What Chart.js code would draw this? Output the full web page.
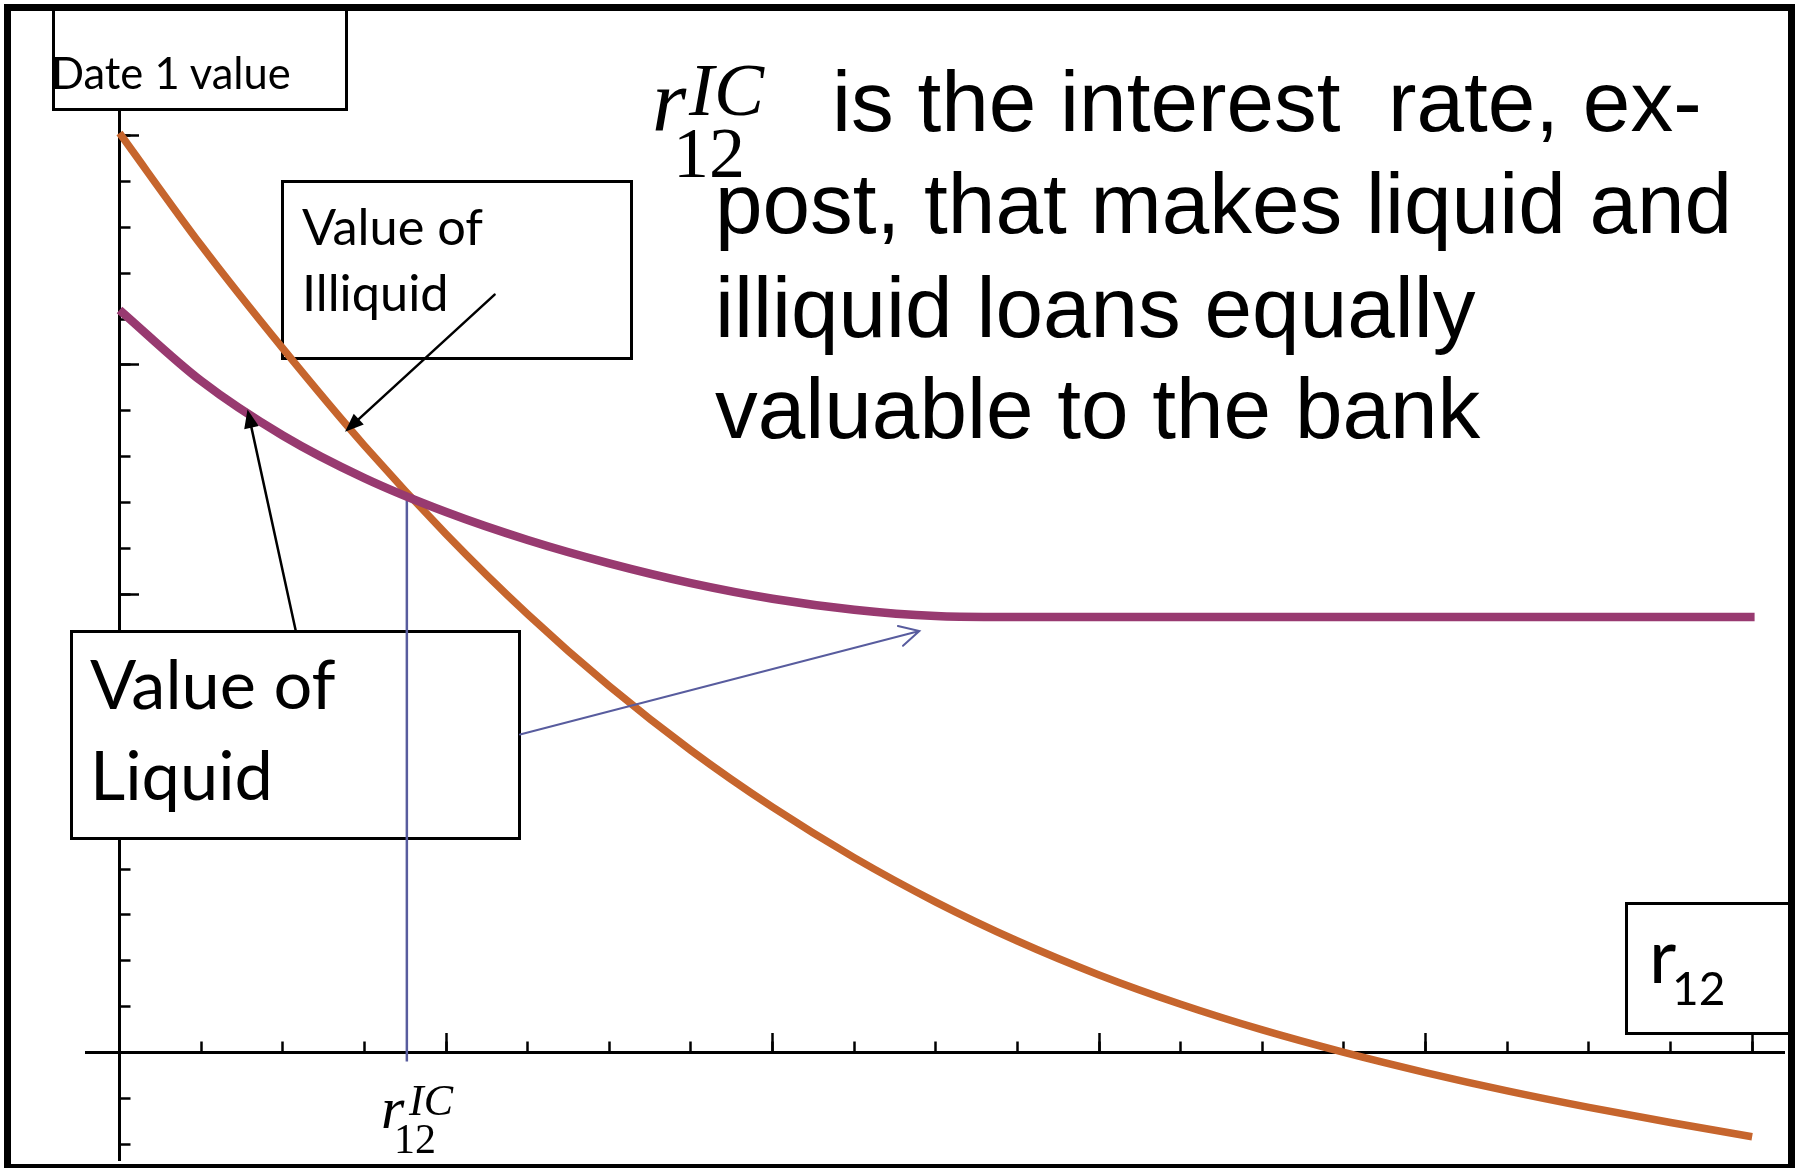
<!DOCTYPE html>
<html>
<head>
<meta charset="utf-8">
<title>Date 1 value against r12</title>
<script src="https://cdn.jsdelivr.net/npm/chart.js@4.4.1/dist/chart.umd.min.js"></script>
<style>
    html, body { margin: 0; padding: 0; background: #fff; }
    #wrap  { position: relative; width: 1803px; height: 1168px; overflow: hidden; background: #fff; }
    #chart { position: absolute; left: 0; top: 0; }
    #ink   { position: absolute; left: 0; top: 0; }
</style>
</head>
<body>
<div id="wrap">
    <canvas id="chart" width="1803" height="1168"></canvas>
    <svg id="ink" width="1803" height="1168" xmlns="http://www.w3.org/2000/svg">
        <rect x="7.5" y="7.5" width="1784" height="1160" fill="none" stroke="#000" stroke-width="7"/>

        <g font-family="Lato, 'Open Sans', sans-serif" fill="#000">
            <text x="51" y="89" font-size="43.5">Date 1 value</text>
            <text x="302" y="244.6" font-size="50.5">Value of</text>
            <text x="302" y="310.7" font-size="50.5">Illiquid</text>
            <text x="90" y="709.3" font-size="68.5">Value of</text>
            <text x="90" y="800.4" font-size="68.5">Liquid</text>
            <text x="1649" y="983" font-size="75">r</text>
            <text x="1672" y="1005" font-size="46">12</text>
        </g>

        <g font-family="'Liberation Serif', 'Times New Roman', serif" fill="#000">
            <text x="652" y="130" font-size="88" font-style="italic">r</text>
            <text x="689" y="115" font-size="75" font-style="italic">IC</text>
            <text x="673" y="177" font-size="72">12</text>
            <text x="381" y="1128" font-size="60" font-style="italic">r</text>
            <text x="409" y="1115" font-size="44" font-style="italic">IC</text>
            <text x="394" y="1153" font-size="42">12</text>
        </g>

        <g font-family="'Liberation Sans', Arial, sans-serif" font-size="85.5" fill="#000" style="white-space:pre">
            <text x="832" y="130.5" xml:space="preserve">is the interest  rate, ex-</text>
            <text x="715" y="233.3">post, that makes liquid and</text>
            <text x="715" y="336.7">illiquid loans equally</text>
            <text x="715" y="438.3">valuable to the bank</text>
        </g>
    </svg>
</div>

<script>
// ── Datos ─────────────────────────────────────────────────────────────────
const illiquidX = [0, 1, 2, 3, 4, 5, 6, 7, 8, 9, 10, 11, 12, 13, 14, 15, 16, 17, 18, 19, 20];
const illiquidY = [20.06, 17.61, 15.36, 13.24, 11.31, 9.56, 7.99, 6.59, 5.35, 4.25, 3.28,
                   2.43, 1.69, 1.05, 0.49, 0, -0.44, -0.84, -1.2, -1.53, -1.84];

const liquidX = [0, 1, 2, 3, 4, 5, 6, 7, 8, 9, 10, 10.7, 12, 14, 16, 18, 20.03];
const liquidY = [16.2, 14.65, 13.46, 12.53, 11.79, 11.18, 10.67, 10.24, 9.9, 9.66, 9.52,
                 9.5, 9.5, 9.5, 9.5, 9.5, 9.5];

const rIC      = 3.52;          // tipo de corte r12^IC
const rICDrop  = [12.05, -0.2]; // tramo vertical azul

const xMinorTicks = [0, 1, 2, 3, 4, 5, 6, 7, 8, 9, 10, 11, 12, 13, 14, 15, 16, 17, 18, 19, 20];
const xMajorTicks = [0, 4, 8, 12, 16, 20];
const yMinorTicks = [-2, -1, 0, 1, 2, 3, 4, 5, 6, 7, 8, 9, 10, 11, 12, 13, 14, 15, 16, 17, 18, 19, 20];
const yMajorTicks = [0, 5, 10, 15, 20];

const xRange = [-0.4, 20.4];
const yRange = [-2.35, 20.6];

// ── Anotaciones (cajas en px, flechas en unidades de datos) ──────────────
const boxes = [
    [52, 4, 348, 111],       // Date 1 value
    [281, 180, 633, 360],    // Value of Illiquid
    [70, 630, 521, 840],     // Value of Liquid
    [1625, 902, 1792, 1035], // r12
];
const arrows = [
    { from: [4.595, 16.535], to: [2.763, 13.544], color: '#000',    width: 2.5, head: 'solid' },
    { from: [2.157, 9.217],  to: [1.568, 14.028], color: '#000',    width: 2.5, head: 'solid' },
    { from: [4.906, 6.936],  to: [9.798, 9.195],  color: '#585c9e', width: 2,   head: 'open'  },
];

const pts = (xs, ys) => xs.map((v, i) => ({ x: v, y: ys[i] }));
const setTicks = list => scale => { scale.ticks = list.map(v => ({ value: v })); };

// ── Ejes con ticks hacia dentro ───────────────────────────────────────────
function axis(kind, ticks, len, withBorder) {
    const isX = kind === 'x';
    return {
        type: 'linear',
        axis: kind,
        min: isX ? xRange[0] : yRange[0],
        max: isX ? xRange[1] : yRange[1],
        position: isX ? { y: 0 } : { x: 0 },
        afterBuildTicks: setTicks(ticks),
        ticks: { display: false },
        grid: { drawOnChartArea: false, drawTicks: true, tickLength: len, tickWidth: 2.5, tickColor: '#000' },
        border: { display: withBorder, color: '#000', width: 3 },
    };
}

// ── Cajas blancas y flechas ───────────────────────────────────────────────
const overlay = {
    id: 'overlay',
    beforeDatasetsDraw(chart) {
        const ctx = chart.ctx;
        ctx.save();
        ctx.fillStyle = '#fff';
        ctx.strokeStyle = '#000';
        ctx.lineWidth = 3;
        boxes.forEach(([l, t, r, b]) => {
            ctx.fillRect(l, t, r - l, b - t);
            ctx.strokeRect(l + 1.5, t + 1.5, r - l - 3, b - t - 3);
        });
        ctx.restore();
    },
    afterDatasetsDraw(chart) {
        const { ctx, scales: { x, y } } = chart;
        arrows.forEach(a => {
            const x0 = x.getPixelForValue(a.from[0]), y0 = y.getPixelForValue(a.from[1]);
            const x1 = x.getPixelForValue(a.to[0]),   y1 = y.getPixelForValue(a.to[1]);
            const ang = Math.atan2(y1 - y0, x1 - x0);
            ctx.save();
            ctx.strokeStyle = a.color;
            ctx.fillStyle = a.color;
            ctx.lineWidth = a.width;
            ctx.lineCap = 'round';
            if (a.head === 'solid') {
                const L = 20, th = 0.38;
                ctx.beginPath();
                ctx.moveTo(x0, y0);
                ctx.lineTo(x1 - Math.cos(ang) * L * 0.8, y1 - Math.sin(ang) * L * 0.8);
                ctx.stroke();
                ctx.beginPath();
                ctx.moveTo(x1, y1);
                ctx.lineTo(x1 - L * Math.cos(ang - th), y1 - L * Math.sin(ang - th));
                ctx.lineTo(x1 - L * Math.cos(ang + th), y1 - L * Math.sin(ang + th));
                ctx.closePath();
                ctx.fill();
            } else {
                const L = 22, th = 0.48;
                ctx.beginPath();
                ctx.moveTo(x0, y0);
                ctx.lineTo(x1, y1);
                ctx.moveTo(x1 - L * Math.cos(ang - th), y1 - L * Math.sin(ang - th));
                ctx.lineTo(x1, y1);
                ctx.lineTo(x1 - L * Math.cos(ang + th), y1 - L * Math.sin(ang + th));
                ctx.stroke();
            }
            ctx.restore();
        });
    },
};

new Chart(document.getElementById('chart'), {
    type: 'line',
    data: {
        datasets: [
            {
                label: 'Value of Liquid', data: pts(liquidX, liquidY),
                borderColor: '#983a70', borderWidth: 8.5, cubicInterpolationMode: 'monotone',
            },
            {
                label: 'Value of Illiquid', data: pts(illiquidX, illiquidY),
                borderColor: '#c6652d', borderWidth: 7.5, cubicInterpolationMode: 'monotone',
            },
            {
                label: 'r12 IC', data: [{ x: rIC, y: rICDrop[0] }, { x: rIC, y: rICDrop[1] }],
                borderColor: '#585c9e', borderWidth: 2.5,
            },
        ],
    },
    options: {
        responsive: false, animation: false, devicePixelRatio: 1,
        layout: { padding: { left: 86.85, right: 18.2, top: 108.3, bottom: 7.9 } },
        elements: { point: { radius: 0 } },
        plugins: { legend: { display: false }, tooltip: { enabled: false } },
        scales: {
            x:      axis('x', xMinorTicks, -12.5, true),
            xMajor: axis('x', xMajorTicks, -19, false),
            y:      axis('y', yMinorTicks, -12.5, true),
            yMajor: axis('y', yMajorTicks, -19, false),
        },
    },
    plugins: [overlay],
});
</script>
</body>
</html>
